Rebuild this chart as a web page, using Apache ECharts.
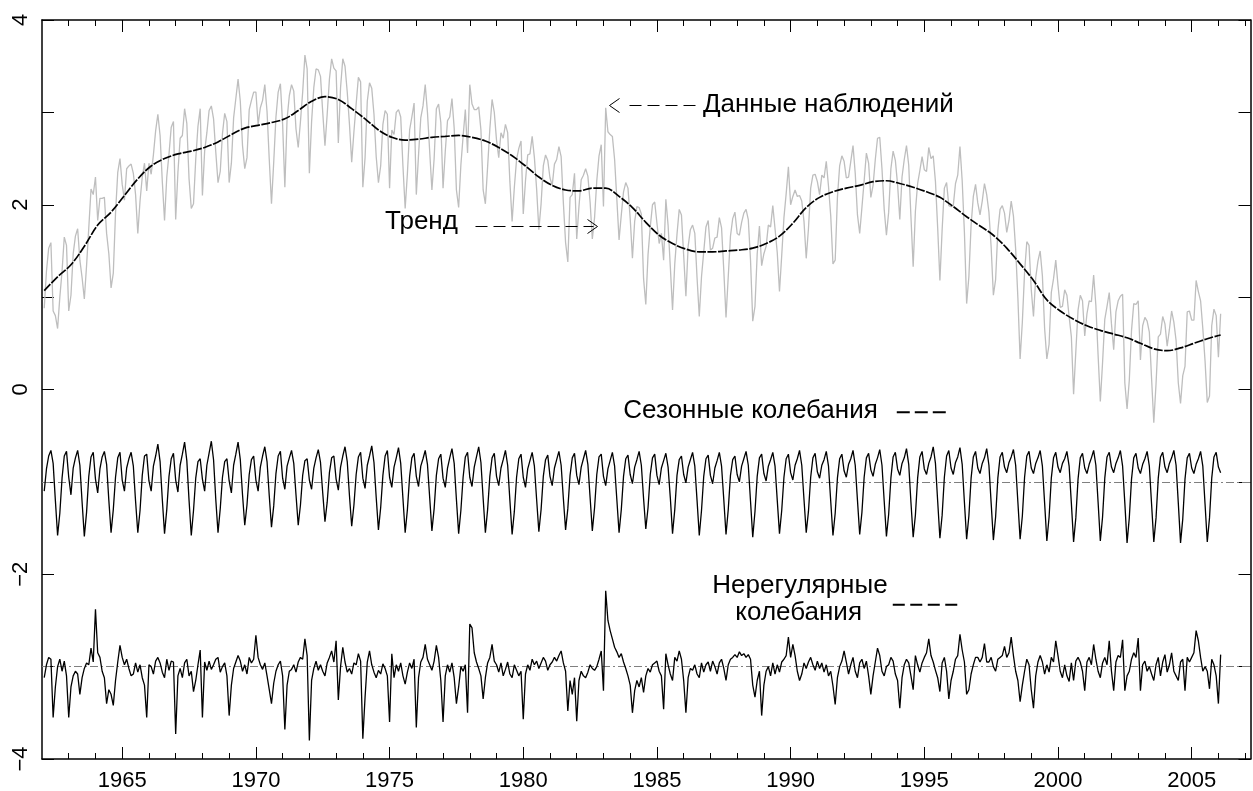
<!DOCTYPE html>
<html>
<head>
<meta charset="utf-8">
<script src="https://cdn.jsdelivr.net/npm/echarts@6/dist/echarts.min.js"></script>
<style>
html,body{margin:0;padding:0;background:#fff;}
#chart{width:1253px;height:791px;}
</style>
</head>
<body>
<div id="chart"></div>
<script>
// ---------------- DATA ----------------
// Monthly series start in February 1962 (t = 1962 + 1/12), 12 values per year.
const MONTHLY_START = 1962 + 1 / 12;
const MONTH_STEP = 1 / 12;

// Observed data (grey line)
const observed = [
  /*1962*/ 0.88,1.28,1.53,1.59,0.85,0.80,0.66,1.00,1.28,1.65,1.56,
  /*1963*/ 0.85,1.02,1.47,1.66,1.74,1.40,1.21,0.98,1.34,1.75,2.17,2.11,
  /*1964*/ 2.30,1.83,2.07,2.07,2.08,1.69,1.47,1.10,1.26,1.91,2.35,2.50,
  /*1965*/ 2.22,2.05,2.39,2.42,2.44,2.34,2.11,1.69,2.04,2.30,2.45,2.15,
  /*1966*/ 2.45,2.33,2.54,2.80,2.98,2.75,2.25,1.83,2.30,2.55,2.84,2.90,
  /*1967*/ 1.84,2.35,2.72,2.75,3.04,2.88,2.28,1.96,2.01,2.49,2.85,3.04,
  /*1968*/ 2.10,2.58,2.78,3.02,3.07,2.93,2.57,2.24,2.36,2.77,2.99,2.90,
  /*1969*/ 2.24,2.45,2.94,3.15,3.36,3.12,2.64,2.39,2.51,3.03,3.13,3.22,
  /*1970*/ 3.22,2.87,3.05,3.13,3.30,3.01,2.49,2.01,2.46,2.95,3.22,3.31,
  /*1971*/ 2.87,2.19,2.93,3.18,3.30,3.23,2.82,2.62,2.90,3.22,3.62,3.47,
  /*1972*/ 2.34,2.90,3.27,3.47,3.46,3.39,3.00,2.64,2.98,3.36,3.58,3.48,
  /*1973*/ 3.45,2.67,3.27,3.58,3.50,3.22,2.87,2.46,2.79,3.09,3.38,3.33,
  /*1974*/ 2.19,2.51,3.12,3.32,3.26,2.98,2.52,2.24,2.42,2.87,3.02,2.98,
  /*1975*/ 2.18,2.81,2.76,3.00,3.03,2.95,2.42,1.96,2.34,2.81,2.95,3.10,
  /*1976*/ 2.11,2.54,2.94,3.07,3.30,3.00,2.58,2.16,2.50,3.04,3.09,2.89,
  /*1977*/ 2.18,2.58,2.91,2.95,3.15,2.83,2.16,1.97,2.43,2.74,3.03,2.56,
  /*1978*/ 3.30,3.09,3.03,3.03,3.06,2.81,2.16,2.01,2.41,2.82,3.14,3.00,
  /*1979*/ 2.70,2.51,2.78,2.72,2.87,2.78,2.25,1.82,2.19,2.49,2.61,2.69,
  /*1980*/ 1.90,2.26,2.54,2.55,2.74,2.51,2.17,1.73,2.01,2.42,2.54,2.48,
  /*1981*/ 2.29,2.21,2.44,2.49,2.63,2.52,2.02,1.59,1.38,2.08,2.11,2.34,
  /*1982*/ 1.63,1.98,2.27,2.32,2.39,2.31,2.03,1.63,1.86,2.26,2.53,2.65,
  /*1983*/ 1.98,3.05,2.79,2.76,2.74,2.49,2.06,1.62,1.89,2.14,2.24,2.18,
  /*1984*/ 1.85,1.42,1.82,1.98,1.97,1.90,1.20,0.92,1.46,1.76,2.00,2.03,
  /*1985*/ 1.80,1.58,1.69,1.40,2.06,1.78,1.33,0.86,1.36,1.68,1.95,1.89,
  /*1986*/ 1.45,1.01,1.55,1.73,1.78,1.69,1.21,0.79,1.22,1.49,1.76,1.83,
  /*1987*/ 1.51,1.53,1.64,1.65,1.86,1.75,1.29,0.78,1.22,1.66,1.85,1.92,
  /*1988*/ 1.69,1.67,1.81,1.91,1.95,1.84,1.40,0.74,0.90,1.47,1.77,1.34,
  /*1989*/ 1.47,1.55,1.78,1.76,1.99,1.74,1.48,1.06,1.45,1.86,2.12,2.41,
  /*1990*/ 2.00,2.09,2.16,2.09,2.10,2.04,1.82,1.42,1.74,2.18,2.32,2.33,
  /*1991*/ 2.25,2.11,2.32,2.29,2.47,2.20,1.88,1.36,1.40,2.08,2.42,2.53,
  /*1992*/ 2.47,2.29,2.30,2.47,2.64,2.34,1.89,1.69,1.97,2.26,2.56,2.45,
  /*1993*/ 2.08,2.21,2.49,2.72,2.73,2.39,1.95,1.67,1.92,2.39,2.58,2.48,
  /*1994*/ 2.22,1.84,2.30,2.49,2.64,2.43,1.87,1.33,1.93,2.23,2.37,2.52,
  /*1995*/ 2.38,2.36,2.62,2.50,2.53,2.25,1.75,1.18,1.73,2.18,2.24,1.99,
  /*1996*/ 1.98,1.99,2.23,2.32,2.63,2.26,1.70,0.93,1.22,1.78,2.09,2.22,
  /*1997*/ 2.02,1.89,2.04,2.23,2.11,1.92,1.54,1.02,1.19,1.72,1.95,1.99,
  /*1998*/ 1.91,1.70,1.83,2.04,1.88,1.52,0.99,0.33,0.73,1.27,1.60,1.56,
  /*1999*/ 1.08,0.79,1.21,1.39,1.50,1.23,0.66,0.33,0.49,1.05,1.20,1.40,
  /*2000*/ 1.13,0.89,0.90,1.08,1.02,0.79,0.57,-0.05,0.41,0.86,1.02,0.96,
  /*2001*/ 0.58,0.82,0.96,0.95,1.24,0.91,0.37,-0.13,0.29,0.76,0.90,1.05,
  /*2002*/ 0.71,0.43,0.84,0.96,1.01,1.03,0.07,-0.21,0.10,0.64,0.93,0.92,
  /*2003*/ 0.96,0.32,0.69,0.78,0.74,0.62,0.12,-0.36,0.06,0.57,0.60,0.79,
  /*2004*/ 0.71,0.47,0.65,0.85,0.73,0.53,0.07,-0.15,0.15,0.25,0.84,0.85,
  /*2005*/ 0.75,0.75,1.18,1.06,0.96,0.66,0.31,-0.14,-0.07,0.69,0.87,0.80,
  /*2006*/ 0.35,0.82
];

// Trend (semi-annual readings of the smooth curve)
const TREND_START = 1962 + 1 / 12;
const TREND_STEP = 0.5;
const trend = [
  1.07,1.22, 1.35,1.55, 1.78,1.92, 2.10,2.28, 2.42,2.50, 2.55,2.58, 2.62,2.68, 2.76,2.83,
  2.86,2.89, 2.93,3.02, 3.12,3.17, 3.14,3.04, 2.93,2.81, 2.73,2.70, 2.71,2.73, 2.74,2.75,
  2.73,2.69, 2.62,2.53, 2.42,2.30, 2.21,2.16, 2.15,2.18, 2.18,2.09, 1.97,1.81, 1.67,1.58,
  1.52,1.49, 1.49,1.50, 1.51,1.53, 1.58,1.66, 1.80,1.97, 2.08,2.14, 2.18,2.21, 2.25,2.26,
  2.23,2.19, 2.14,2.08, 1.98,1.87, 1.77,1.67, 1.53,1.36, 1.18,0.97, 0.85,0.76, 0.69,0.64,
  0.60,0.56, 0.50,0.44, 0.42,0.45, 0.50,0.55, 0.59
];

// Seasonal component (drawn shifted down by 1)
const seasonal = [
  /*1962*/ -0.10,0.14,0.28,0.34,0.20,-0.20,-0.58,-0.34,0.04,0.28,0.33,
  /*1963*/ 0.05,-0.14,0.15,0.26,0.34,0.18,-0.22,-0.59,-0.33,0.06,0.27,0.32,
  /*1964*/ 0.03,-0.12,0.14,0.27,0.33,0.19,-0.20,-0.55,-0.30,0.05,0.26,0.32,
  /*1965*/ 0.02,-0.10,0.15,0.25,0.32,0.17,-0.21,-0.55,-0.31,0.07,0.28,0.30,
  /*1966*/ 0.01,-0.10,0.17,0.28,0.41,0.22,-0.19,-0.56,-0.30,0.06,0.25,0.31,
  /*1967*/ 0.02,-0.11,0.18,0.30,0.43,0.23,-0.20,-0.58,-0.31,0.04,0.22,0.25,
  /*1968*/ 0.03,-0.10,0.18,0.31,0.44,0.24,-0.19,-0.55,-0.29,0.05,0.22,0.25,
  /*1969*/ 0.01,-0.12,0.18,0.30,0.43,0.24,-0.14,-0.47,-0.25,0.08,0.24,0.28,
  /*1970*/ 0.02,-0.10,0.16,0.28,0.38,0.22,-0.15,-0.49,-0.26,0.09,0.28,0.33,
  /*1971*/ 0.04,-0.08,0.17,0.26,0.34,0.20,-0.14,-0.47,-0.25,0.07,0.23,0.25,
  /*1972*/ 0.02,-0.08,0.15,0.26,0.35,0.21,-0.12,-0.43,-0.22,0.10,0.26,0.28,
  /*1973*/ 0.03,-0.09,0.16,0.28,0.38,0.22,-0.15,-0.48,-0.25,0.08,0.27,0.32,
  /*1974*/ 0.04,-0.07,0.18,0.28,0.39,0.21,-0.17,-0.52,-0.28,0.07,0.28,0.34,
  /*1975*/ 0.05,-0.06,0.16,0.26,0.37,0.20,-0.18,-0.55,-0.30,0.06,0.26,0.31,
  /*1976*/ 0.06,-0.05,0.17,0.25,0.34,0.19,-0.17,-0.53,-0.29,0.07,0.25,0.30,
  /*1977*/ 0.04,-0.06,0.15,0.26,0.36,0.20,-0.19,-0.56,-0.31,0.05,0.27,0.32,
  /*1978*/ 0.05,-0.05,0.16,0.27,0.38,0.21,-0.18,-0.55,-0.30,0.06,0.26,0.31,
  /*1979*/ 0.06,-0.04,0.15,0.24,0.34,0.18,-0.20,-0.57,-0.32,0.05,0.25,0.30,
  /*1980*/ 0.05,-0.06,0.14,0.23,0.32,0.17,-0.19,-0.54,-0.30,0.06,0.24,0.29,
  /*1981*/ 0.06,-0.04,0.15,0.24,0.33,0.18,-0.18,-0.52,-0.29,0.07,0.26,0.31,
  /*1982*/ 0.07,-0.03,0.16,0.25,0.34,0.19,-0.17,-0.53,-0.28,0.08,0.27,0.30,
  /*1983*/ 0.06,-0.04,0.14,0.23,0.32,0.17,-0.19,-0.55,-0.30,0.06,0.25,0.29,
  /*1984*/ 0.08,-0.02,0.16,0.24,0.33,0.18,-0.18,-0.51,-0.28,0.08,0.26,0.30,
  /*1985*/ 0.07,-0.03,0.15,0.23,0.31,0.16,-0.17,-0.56,-0.30,0.07,0.24,0.28,
  /*1986*/ 0.08,-0.01,0.16,0.24,0.32,0.17,-0.20,-0.58,-0.31,0.06,0.25,0.29,
  /*1987*/ 0.07,-0.02,0.15,0.23,0.32,0.17,-0.19,-0.57,-0.30,0.07,0.24,0.28,
  /*1988*/ 0.08,0.00,0.17,0.25,0.33,0.18,-0.21,-0.60,-0.32,0.06,0.26,0.30,
  /*1989*/ 0.09,0.01,0.17,0.24,0.32,0.17,-0.20,-0.56,-0.31,0.05,0.25,0.30,
  /*1990*/ 0.10,0.02,0.18,0.25,0.34,0.18,-0.19,-0.55,-0.32,0.05,0.26,0.31,
  /*1991*/ 0.11,0.04,0.18,0.24,0.33,0.17,-0.21,-0.58,-0.34,0.04,0.25,0.30,
  /*1992*/ 0.12,0.05,0.19,0.25,0.34,0.18,-0.20,-0.57,-0.33,0.05,0.26,0.31,
  /*1993*/ 0.13,0.06,0.19,0.26,0.35,0.18,-0.21,-0.59,-0.35,0.04,0.27,0.32,
  /*1994*/ 0.14,0.07,0.20,0.26,0.36,0.19,-0.22,-0.60,-0.36,0.04,0.27,0.33,
  /*1995*/ 0.14,0.08,0.20,0.27,0.38,0.20,-0.21,-0.61,-0.36,0.05,0.28,0.34,
  /*1996*/ 0.15,0.08,0.21,0.27,0.37,0.19,-0.22,-0.62,-0.37,0.04,0.27,0.33,
  /*1997*/ 0.15,0.09,0.20,0.26,0.36,0.18,-0.23,-0.63,-0.38,0.04,0.27,0.32,
  /*1998*/ 0.16,0.10,0.21,0.27,0.35,0.18,-0.22,-0.62,-0.37,0.05,0.28,0.33,
  /*1999*/ 0.15,0.09,0.20,0.26,0.34,0.17,-0.23,-0.64,-0.38,0.04,0.26,0.32,
  /*2000*/ 0.16,0.10,0.20,0.25,0.33,0.17,-0.23,-0.65,-0.39,0.03,0.26,0.31,
  /*2001*/ 0.15,0.09,0.19,0.26,0.34,0.18,-0.22,-0.64,-0.38,0.04,0.27,0.32,
  /*2002*/ 0.16,0.10,0.20,0.26,0.34,0.17,-0.23,-0.66,-0.39,0.03,0.26,0.31,
  /*2003*/ 0.15,0.09,0.19,0.25,0.33,0.17,-0.24,-0.65,-0.39,0.04,0.27,0.32,
  /*2004*/ 0.16,0.10,0.20,0.26,0.34,0.18,-0.23,-0.66,-0.40,0.03,0.26,0.31,
  /*2005*/ 0.15,0.09,0.19,0.25,0.33,0.17,-0.24,-0.65,-0.39,0.04,0.27,0.32,
  /*2006*/ 0.16,0.10
];

// Irregular component (drawn shifted down by 3)
const irregular = [
  /*1962*/ -0.12,0.02,0.10,0.08,-0.55,-0.22,0.00,0.08,-0.05,0.06,-0.10,
  /*1963*/ -0.55,-0.22,-0.10,-0.05,-0.08,-0.30,-0.12,-0.02,0.04,0.02,0.20,0.05,
  /*1964*/ 0.62,0.15,0.10,-0.05,-0.12,-0.40,-0.25,-0.30,-0.42,-0.15,0.05,0.23,
  /*1965*/ 0.10,0.02,0.08,-0.02,-0.10,-0.08,0.04,-0.06,0.02,-0.12,-0.20,-0.55,
  /*1966*/ 0.02,0.00,-0.08,0.06,0.10,0.04,-0.06,-0.12,0.08,-0.04,0.06,0.05,
  /*1967*/ -0.73,-0.10,-0.02,-0.12,0.04,0.08,-0.10,-0.05,-0.27,-0.15,0.02,0.18,
  /*1968*/ -0.55,0.05,-0.04,0.06,-0.03,0.02,0.08,0.10,-0.06,0.00,0.04,-0.10,
  /*1969*/ -0.53,-0.20,-0.02,0.05,0.12,0.06,-0.05,0.02,-0.08,0.10,0.04,0.08,
  /*1970*/ 0.34,0.10,0.02,-0.03,0.04,-0.10,-0.25,-0.40,-0.18,-0.05,0.02,0.06,
  /*1971*/ -0.10,-0.68,-0.20,-0.05,-0.03,0.02,-0.06,0.05,0.10,0.08,0.30,0.12,
  /*1972*/ -0.80,-0.15,-0.02,0.06,-0.04,0.02,-0.05,-0.10,0.04,0.10,0.17,0.05,
  /*1973*/ 0.28,-0.36,0.00,0.21,0.05,-0.06,-0.02,-0.08,0.04,0.02,0.14,0.06,
  /*1974*/ -0.78,-0.33,0.05,0.17,0.02,-0.06,-0.12,-0.04,-0.08,0.03,-0.02,-0.10,
  /*1975*/ -0.60,0.14,-0.12,0.02,-0.05,0.04,-0.10,-0.19,-0.06,0.04,-0.02,0.08,
  /*1976*/ -0.66,-0.12,0.05,0.10,0.24,0.08,0.02,-0.04,0.06,0.23,0.10,-0.15,
  /*1977*/ -0.60,-0.10,0.02,-0.06,0.04,-0.12,-0.40,-0.22,0.00,-0.05,0.02,-0.50,
  /*1978*/ 0.46,0.42,0.15,0.05,-0.02,-0.10,-0.35,-0.12,0.04,0.10,0.24,0.06,
  /*1979*/ 0.02,-0.06,0.04,-0.10,-0.03,0.05,-0.08,-0.12,0.02,-0.04,-0.10,-0.05,
  /*1980*/ -0.57,-0.08,0.02,-0.04,0.08,0.02,0.06,-0.02,0.04,0.10,0.06,-0.04,
  /*1981*/ 0.02,0.05,0.10,0.06,0.12,0.17,0.04,-0.05,-0.48,-0.15,-0.30,-0.12,
  /*1982*/ -0.59,-0.15,-0.05,-0.10,-0.12,-0.06,0.02,-0.02,-0.04,0.00,0.08,0.17,
  /*1983*/ -0.26,0.82,0.50,0.39,0.30,0.21,0.16,0.10,0.14,0.05,-0.02,-0.10,
  /*1984*/ -0.20,-0.50,-0.26,-0.15,-0.22,-0.12,-0.28,-0.10,-0.02,-0.06,0.02,0.04,
  /*1985*/ 0.06,-0.05,-0.10,-0.46,0.14,0.02,-0.08,-0.15,0.10,0.06,0.17,0.08,
  /*1986*/ -0.15,-0.50,-0.12,-0.02,-0.04,0.02,-0.08,-0.12,0.04,-0.06,0.02,0.05,
  /*1987*/ -0.05,0.06,0.00,-0.08,0.04,0.08,-0.02,-0.15,0.02,0.08,0.10,0.13,
  /*1988*/ 0.10,0.16,0.12,0.14,0.10,0.13,0.08,-0.20,-0.33,-0.15,-0.05,-0.53,
  /*1989*/ -0.20,-0.05,0.00,-0.10,0.04,-0.08,0.02,-0.06,0.05,0.08,0.12,0.32,
  /*1990*/ 0.10,0.24,0.12,-0.05,-0.15,-0.08,0.04,-0.02,0.05,0.10,0.02,-0.04,
  /*1991*/ 0.06,-0.02,0.04,-0.06,0.02,-0.10,-0.05,-0.21,-0.41,-0.12,0.00,0.06,
  /*1992*/ 0.17,0.05,-0.08,0.02,0.10,-0.05,-0.12,0.04,0.08,-0.02,0.06,-0.10,
  /*1993*/ -0.30,-0.10,0.05,0.20,0.12,-0.05,-0.10,0.00,0.02,0.10,0.06,-0.08,
  /*1994*/ -0.15,-0.45,-0.12,0.02,0.08,0.04,-0.10,-0.25,0.12,0.02,-0.06,0.04,
  /*1995*/ 0.10,0.15,0.30,0.12,0.05,-0.04,-0.12,-0.27,0.04,0.10,-0.05,-0.35,
  /*1996*/ -0.15,-0.05,0.08,0.12,0.35,0.18,0.05,-0.30,-0.25,-0.08,0.02,0.10,
  /*1997*/ 0.10,0.05,0.10,0.25,0.05,0.05,0.10,0.00,-0.05,0.08,0.10,0.12,
  /*1998*/ 0.22,0.10,0.15,0.32,0.12,-0.05,-0.15,-0.38,-0.20,-0.05,0.08,0.02,
  /*1999*/ -0.25,-0.45,-0.10,0.05,0.12,0.05,-0.08,0.02,-0.06,0.10,0.05,0.28,
  /*2000*/ 0.12,-0.05,-0.12,0.02,-0.10,-0.16,0.04,-0.15,0.06,0.10,0.05,-0.05,
  /*2001*/ -0.26,0.05,0.10,0.02,0.24,0.08,-0.05,-0.12,0.04,0.10,0.02,0.28,
  /*2002*/ -0.05,-0.26,0.05,0.12,0.10,0.29,-0.26,-0.10,-0.05,0.08,0.15,0.10,
  /*2003*/ 0.31,-0.26,0.02,0.06,-0.05,0.00,-0.08,-0.15,0.02,0.10,-0.10,0.05,
  /*2004*/ 0.13,-0.06,0.02,0.15,-0.05,-0.10,-0.15,0.05,0.08,-0.26,0.10,0.05,
  /*2005*/ 0.10,0.15,0.39,0.28,0.10,-0.05,0.00,-0.05,-0.24,0.08,0.02,-0.10,
  /*2006*/ -0.40,0.13
];

// Axis ticks / labels
const majorYears = [1965, 1970, 1975, 1980, 1985, 1990, 1995, 2000, 2005];
const minorYears = [1963,1964,1966,1967,1968,1969,1971,1972,1973,1974,1976,1977,1978,1979,
  1981,1982,1983,1984,1986,1987,1988,1989,1991,1992,1993,1994,1996,1997,1998,1999,
  2001,2002,2003,2004,2006,2007];
const X_MIN = 1962, X_MAX = 2007.2;
const Y_MIN = -4, Y_MAX = 4;

// Display offsets of the components (as in the original figure)
const SEASONAL_OFFSET = -1;
const IRREGULAR_OFFSET = -3;

// Annotation texts
const LABEL_OBS = 'Данные наблюдений';
const LABEL_TREND = 'Тренд';
const LABEL_SEAS = 'Сезонные колебания';
const LABEL_IRR1 = 'Нерегулярные';
const LABEL_IRR2 = 'колебания';

// ---------------- CHART ----------------
const FONT = '"Liberation Sans", Arial, Helvetica, sans-serif';
const monthly = (arr, off) => arr.map((v, i) => [MONTHLY_START + i * MONTH_STEP, +(v + off).toFixed(3)]);
const trendData = trend.map((v, i) => [TREND_START + i * TREND_STEP, v]);

function xAx(pos, custom, len, showLine, showLabel) {
  return {
    type: 'value', position: pos, min: X_MIN, max: X_MAX,
    axisLine: { show: showLine, onZero: false, lineStyle: { color: '#000', width: 1.5 } },
    axisTick: { show: true, inside: true, length: len, customValues: custom, lineStyle: { color: '#000', width: 1 } },
    axisLabel: showLabel ? { show: true, customValues: custom, color: '#000', fontSize: 22, fontFamily: FONT, margin: 11,
      formatter: v => String(Math.round(v)) } : { show: false },
    splitLine: { show: false }
  };
}
function yAx(pos, showLabel) {
  return {
    type: 'value', position: pos, min: Y_MIN, max: Y_MAX, interval: 1,
    axisLine: { show: true, onZero: false, lineStyle: { color: '#000', width: 1.5 } },
    axisTick: { show: true, inside: true, length: 12, lineStyle: { color: '#000', width: 1 } },
    axisLabel: showLabel ? {
      show: true, rotate: 90, color: '#000', fontSize: 22, fontFamily: FONT, margin: 10,
      formatter: v => (v % 2 === 0 ? String(v).replace('-', '\u2212') : '')
    } : { show: false },
    splitLine: { show: false }
  };
}

const chart = echarts.init(document.getElementById('chart'), null, { renderer: 'canvas' });
chart.setOption({
  animation: false,
  backgroundColor: '#fff',
  grid: { left: 42, right: 2.5, top: 20, bottom: 32, containLabel: false, outerBoundsMode: 'none' },
  xAxis: [
    xAx('bottom', majorYears, 12, true, true),
    xAx('bottom', minorYears, 6, false, false),
    xAx('top', majorYears, 12, true, false),
    xAx('top', minorYears, 6, false, false)
  ],
  yAxis: [yAx('left', true), yAx('right', false)],
  series: [
    {
      name: 'observed', type: 'line', data: monthly(observed, 0), showSymbol: false, z: 2,
      lineStyle: { color: '#bebebe', width: 1.3 }, itemStyle: { color: '#bebebe' }
    },
    {
      name: 'trend', type: 'line', data: trendData, showSymbol: false, smooth: 0.35, z: 3,
      lineStyle: { color: '#000', width: 1.7, type: [9, 1.5] }, itemStyle: { color: '#000' }
    },
    {
      name: 'seasonal', type: 'line', data: monthly(seasonal, SEASONAL_OFFSET), showSymbol: false, z: 3,
      lineStyle: { color: '#000', width: 1.3 }, itemStyle: { color: '#000' },
      markLine: {
        silent: true, symbol: ['none', 'none'], label: { show: false },
        lineStyle: { color: '#808080', width: 1, type: [8, 3, 2, 3] },
        data: [{ yAxis: SEASONAL_OFFSET }], z: 1
      }
    },
    {
      name: 'irregular', type: 'line', data: monthly(irregular, IRREGULAR_OFFSET), showSymbol: false, z: 3,
      lineStyle: { color: '#000', width: 1.3 }, itemStyle: { color: '#000' },
      markLine: {
        silent: true, symbol: ['none', 'none'], label: { show: false },
        lineStyle: { color: '#808080', width: 1, type: [8, 3, 2, 3] },
        data: [{ yAxis: IRREGULAR_OFFSET }], z: 1
      }
    }
  ]
});

// ---- annotations (anchored in data coordinates) ----
const P = (x, y) => chart.convertToPixel({ xAxisIndex: 0, yAxisIndex: 0 }, [x, y]);
const snap = p => [Math.round(p[0]) + 0.5, Math.round(p[1]) + 0.5];
const ANN = {
  obsText: [1986.72, 3.08], obsArrowFrom: [1986.42, 3.08], obsArrowTo: [1983.21, 3.08],
  trendText: [1974.83, 1.81], trendArrowFrom: [1978.20, 1.77], trendArrowTo: [1982.76, 1.77],
  seasText: [1993.26, -0.23], seasDashFrom: [1993.97, -0.245], seasDashTo: [1995.84, -0.245],
  irrText1: [1990.35, -2.12], irrText2: [1990.30, -2.42], irrDashFrom: [1993.82, -2.33], irrDashTo: [1996.25, -2.33]
};
function txt(p, s, align) {
  return { type: 'text', x: p[0], y: p[1], z: 100,
    style: { text: s, fill: '#000', font: '26px ' + FONT, align: align, verticalAlign: 'middle',
             textAlign: align, textVerticalAlign: 'middle' } };
}
function seg(a, b, dash, w) {
  return { type: 'line', z: 100, shape: { x1: a[0], y1: a[1], x2: b[0], y2: b[1] },
    style: { stroke: '#000', lineWidth: w, lineDash: dash } };
}
function head(p, dir) {
  return { type: 'polyline', z: 100,
    shape: { points: [[p[0] + dir * 10, p[1] - 7], [p[0], p[1]], [p[0] + dir * 10, p[1] + 7]] },
    style: { stroke: '#000', lineWidth: 1, fill: null } };
}
const oT = P(...ANN.obsText), oF = snap(P(...ANN.obsArrowFrom)), oTo = snap(P(...ANN.obsArrowTo));
const tT = P(...ANN.trendText), tF = snap(P(...ANN.trendArrowFrom)), tTo = snap(P(...ANN.trendArrowTo));
const sT = P(...ANN.seasText), sF = P(...ANN.seasDashFrom), sTo = P(...ANN.seasDashTo);
const i1 = P(...ANN.irrText1), i2 = P(...ANN.irrText2), iF = P(...ANN.irrDashFrom), iTo = P(...ANN.irrDashTo);

chart.setOption({
  graphic: [
    txt(oT, LABEL_OBS, 'left'),
    seg(oF, [oTo[0] + 14, oTo[1]], [12, 6], 1),
    head(oTo, 1),
    txt(tT, LABEL_TREND, 'left'),
    seg(tF, [tTo[0] - 4, tTo[1]], [12, 6], 1),
    head(tTo, -1),
    txt(sT, LABEL_SEAS, 'right'),
    seg(sF, sTo, [13, 5], 2),
    txt(i1, LABEL_IRR1, 'center'),
    txt(i2, LABEL_IRR2, 'center'),
    seg(iF, iTo, [12, 5.5], 2)
  ]
});
</script>
</body>
</html>
